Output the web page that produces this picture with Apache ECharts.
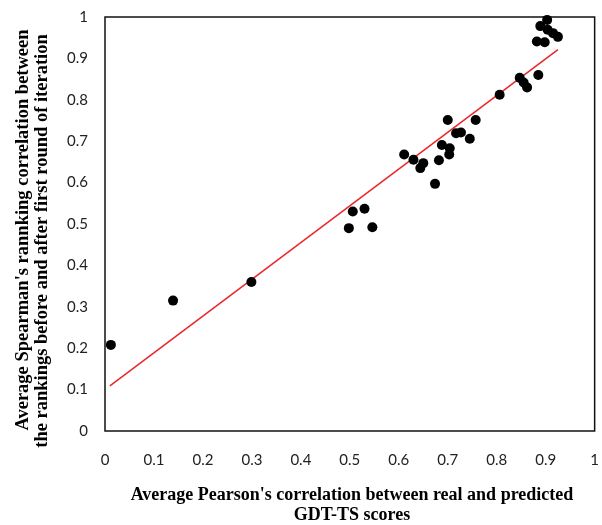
<!DOCTYPE html>
<html>
<head>
<meta charset="utf-8">
<script src="https://cdn.jsdelivr.net/npm/echarts@6/dist/echarts.min.js"></script>
<style>
  html, body { margin: 0; padding: 0; background: #fff; }
  #chart { width: 602px; height: 525px; }
</style>
</head>
<body>
<div id="chart"></div>
<script>
// Average Pearson's correlation (x) vs. average Spearman's ranking correlation (y)
const pearson = [
  0.012, 0.139, 0.299,
  0.498, 0.506, 0.530, 0.546,
  0.611, 0.630, 0.644, 0.650, 0.674, 0.682, 0.688,
  0.700, 0.703, 0.704, 0.717, 0.727, 0.745, 0.757,
  0.806, 0.847, 0.855, 0.862, 0.885,
  0.882, 0.898, 0.889, 0.903, 0.904, 0.915, 0.925
];
const spearman = [
  0.208, 0.315, 0.360,
  0.490, 0.530, 0.537, 0.492,
  0.668, 0.655, 0.635, 0.647, 0.597, 0.654, 0.691,
  0.751, 0.668, 0.683, 0.719, 0.721, 0.706, 0.751,
  0.812, 0.853, 0.842, 0.830, 0.860,
  0.941, 0.939, 0.978, 0.993, 0.969, 0.961, 0.952
];
// Linear trend line: y = slope * x + intercept
const trendSlope = 0.888;
const trendIntercept = 0.100;
const trendRange = [0.01, 0.925];

const xTicks = ['0', '0.1', '0.2', '0.3', '0.4', '0.5', '0.6', '0.7', '0.8', '0.9', '1'];
const yTicks = ['0', '0.1', '0.2', '0.3', '0.4', '0.5', '0.6', '0.7', '0.8', '0.9', '1'];

const xTitle = ["Average Pearson's correlation between real and predicted", 'GDT-TS scores'];
const yTitle = ["Average Spearman's rannking correlation between", 'the rankings before and after first round of iteration'];

const points = pearson.map((x, i) => [x, spearman[i]]);
const trend = trendRange.map(x => [x, trendSlope * x + trendIntercept]);

const tickFont = { fontFamily: 'Lato', fontSize: 15, color: '#222' };
const titleFont = { fontFamily: 'Liberation Serif', fontWeight: 'bold', fontSize: 18, color: '#111' };
const yTitleFont = Object.assign({}, titleFont, { fontSize: 18.5 });

const chart = echarts.init(document.getElementById('chart'), null, { renderer: 'canvas' });
chart.setOption({
  animation: false,
  backgroundColor: '#fff',
  grid: {
    left: 105, right: 5, top: 17, bottom: 94,
    show: true, borderColor: '#111', borderWidth: 1.5, backgroundColor: 'transparent'
  },
  xAxis: {
    type: 'value', min: 0, max: 1, interval: 0.1,
    axisLine: { show: false },
    axisTick: { show: false },
    splitLine: { show: false },
    axisLabel: Object.assign({
      margin: 22,
      formatter: (v) => xTicks[Math.round(v * 10)]
    }, tickFont)
  },
  yAxis: {
    type: 'value', min: 0, max: 1, interval: 0.1,
    axisLine: { show: false },
    axisTick: { show: false },
    splitLine: { show: false },
    axisLabel: Object.assign({
      margin: 17,
      formatter: (v) => yTicks[Math.round(v * 10)]
    }, tickFont)
  },
  graphic: [
    {
      type: 'text', x: 352, y: 505,
      style: Object.assign({ text: xTitle.join('\n'), align: 'center', verticalAlign: 'middle', lineHeight: 20 }, titleFont)
    },
    {
      type: 'text', x: 23, y: 230, rotation: Math.PI / 2,
      style: Object.assign({ text: yTitle[0], align: 'center', verticalAlign: 'middle' }, yTitleFont)
    },
    {
      type: 'text', x: 42, y: 241, rotation: Math.PI / 2,
      style: Object.assign({ text: yTitle[1], align: 'center', verticalAlign: 'middle' }, yTitleFont)
    }
  ],
  series: [
    {
      type: 'line', data: trend, symbol: 'none', silent: true,
      lineStyle: { color: '#e8262b', width: 1.5 }, z: 1
    },
    {
      type: 'scatter', data: points, symbol: 'circle', symbolSize: 10,
      itemStyle: { color: '#000', opacity: 1 }, z: 2
    }
  ]
});
</script>
</body>
</html>
